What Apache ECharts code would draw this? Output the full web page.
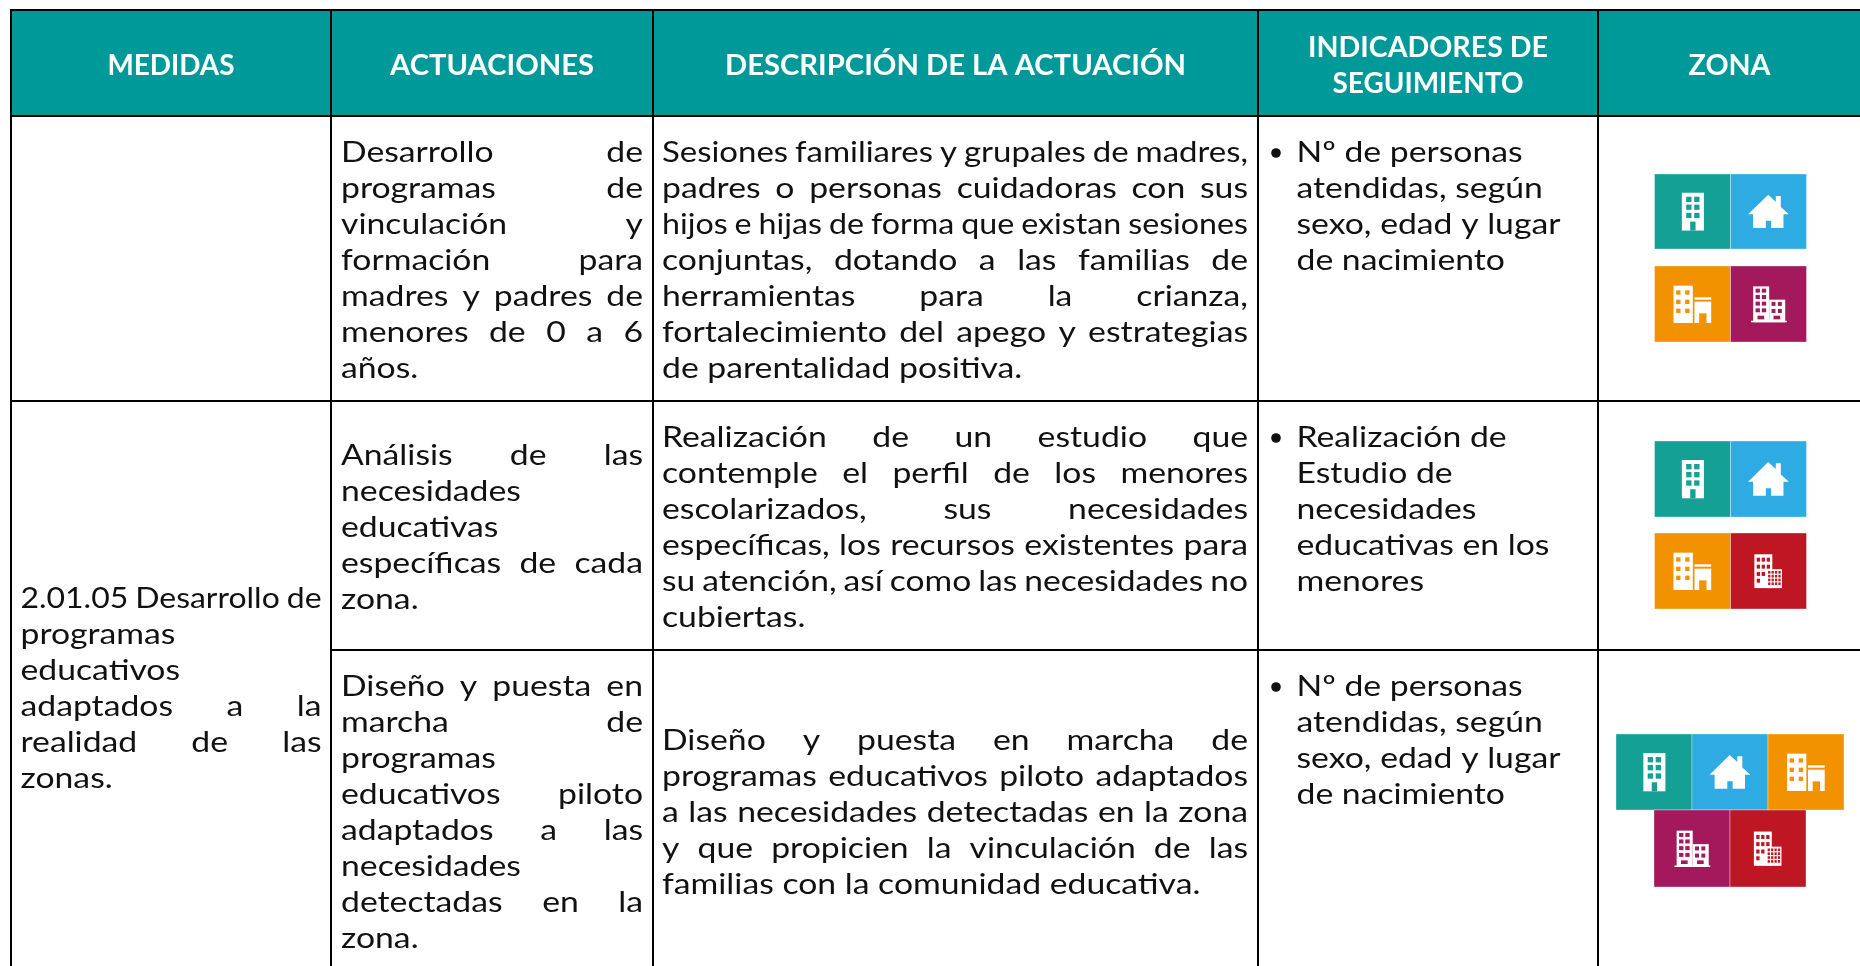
<!DOCTYPE html>
<html lang="es">
<head>
<meta charset="utf-8">
<style>html,body{margin:0;padding:0;background:#fff}#c{width:1860px;height:966px}</style>
<script src="https://cdn.jsdelivr.net/npm/echarts@6/dist/echarts.min.js"></script>
</head>
<body>
<div id="c"></div>
<script>
// ---------- content ----------
const headers = [["MEDIDAS"], ["ACTUACIONES"], ["DESCRIPCIÓN DE LA ACTUACIÓN"], ["INDICADORES DE", "SEGUIMIENTO"], ["ZONA"]];

const medida = ["2.01.05 Desarrollo de", "programas", "educativos", "adaptados a la", "realidad de las", "zonas."];

const actuacion1 = ["Desarrollo de", "programas de", "vinculación y", "formación para", "madres y padres de", "menores de 0 a 6", "años."];
const actuacion2 = ["Análisis de las", "necesidades", "educativas", "específicas de cada", "zona."];
const actuacion3 = ["Diseño y puesta en", "marcha de", "programas", "educativos piloto", "adaptados a las", "necesidades", "detectadas en la", "zona."];

const descripcion1 = ["Sesiones familiares y grupales de madres,", "padres o personas cuidadoras con sus", "hijos e hijas de forma que existan sesiones", "conjuntas, dotando a las familias de", "herramientas para la crianza,", "fortalecimiento del apego y estrategias", "de parentalidad positiva."];
const descripcion2 = ["Realización de un estudio que", "contemple el perfil de los menores", "escolarizados, sus necesidades", "específicas, los recursos existentes para", "su atención, así como las necesidades no", "cubiertas."];
const descripcion3 = ["Diseño y puesta en marcha de", "programas educativos piloto adaptados", "a las necesidades detectadas en la zona", "y que propicien la vinculación de las", "familias con la comunidad educativa."];

const indicador1 = ["Nº de personas", "atendidas, según", "sexo, edad y lugar", "de nacimiento"];
const indicador2 = ["Realización de", "Estudio de", "necesidades", "educativas en los", "menores"];
const indicador3 = ["Nº de personas", "atendidas, según", "sexo, edad y lugar", "de nacimiento"];

const zonas1 = [["teal", "blue"], ["orange", "purple"]];
const zonas2 = [["teal", "blue"], ["orange", "red"]];
const zonas3 = [["teal", "blue", "orange"], ["purple", "red"]];

// ---------- layout and style ----------
const COLS = [11, 331, 653, 1258, 1598, 1862];
const ROWS = [10, 116, 401, 650, 968];
const HEAD_WIDTHS = {"MEDIDAS": 127, "ACTUACIONES": 204, "DESCRIPCIÓN DE LA ACTUACIÓN": 461, "INDICADORES DE": 240, "SEGUIMIENTO": 191, "ZONA": 82};
const TEAL_HEAD = "#009999";
const LINE_H = 36.05;
const FONT = "Lato";
const BODY_SIZE = 29, HEAD_SIZE = 29, MIN_GAP = 7;
const TILE_COLORS = {teal: "#15a096", blue: "#2eabe2", orange: "#f39200", purple: "#a3195b", red: "#be1622"};

const measure = document.createElement("canvas").getContext("2d");
function widthOf(t, weight, size) { measure.font = weight + " " + size + "px " + FONT; return measure.measureText(t).width; }
const K_BODY = 264 / widthOf("sexo, edad y lugar", "normal", BODY_SIZE);

// icon drawings in 0..1 tile units: [x0, y0, x1, y1, isWindow]
const S = (x0, y0, x1, y1, hole) => [x0, y0, x1, y1, !!hole];
function gridOf(xs, ys, w, h) { const o = []; ys.forEach(y => xs.forEach(x => o.push(S(x, y, x + w, y + h, true)))); return o; }
const ICONS = {
  teal: {rects: [S(.36,.25,.65,.754), ...gridOf([.417,.522],[.303,.408,.518],.07,.07), S(.47,.635,.54,.754,true)]},
  blue: {poly: [[.496,.276],[.596,.37],[.596,.294],[.662,.294],[.662,.44],[.768,.535],[.697,.535],[.697,.72],[.535,.72],[.535,.623],[.465,.623],[.465,.72],[.298,.72],[.298,.535],[.232,.535]]},
  orange: {rects: [S(.25,.259,.504,.75), ...gridOf([.285,.404],[.32,.443,.561],.057,.057),
                   S(.526,.412,.746,.443), S(.526,.469,.746,.75), S(.588,.623,.684,.75,true)]},
  purple: {rects: [S(.298,.268,.509,.74), S(.509,.443,.72,.74), S(.27,.72,.74,.74),
                   ...gridOf([.33,.412],[.298,.382,.469,.557],.057,.052), ...gridOf([.54,.623],[.473,.566],.052,.052),
                   S(.355,.654,.443,.702,true), S(.566,.654,.654,.702,true)]},
  red: {rects: [S(.314,.28,.55,.725), ...gridOf([.345,.41,.476],[.325,.417],.044,.052), ...gridOf([.345,.41],[.513],.044,.052), S(.345,.601,.389,.653,true),
                S(.476,.476,.677,.725), ...gridOf([.495,.54,.585,.63],[.5,.55,.6,.65],.03,.035)]}
};

function tile(name, x, y, w, h) {
  const col = TILE_COLORS[name], ic = ICONS[name], kids = [
    {type: "rect", shape: {x, y, width: w, height: h}, style: {fill: col, stroke: "rgba(255,255,255,.35)", lineWidth: 1}}
  ];
  if (ic.poly) kids.push({type: "polygon", shape: {points: ic.poly.map(p => [x + p[0] * w, y + p[1] * h])}, style: {fill: "#fff"}});
  (ic.rects || []).forEach(r => kids.push({type: "rect",
    shape: {x: x + r[0] * w, y: y + r[1] * h, width: (r[2] - r[0]) * w, height: (r[3] - r[1]) * h},
    style: {fill: r[4] ? col : "#fff"}}));
  return kids;
}

function word(t, x, y, fill, weight, size, k) {
  return {type: "text", x, y, scaleX: k, scaleY: 1,
    style: {text: t, x: 0, y: 0, fill, fontFamily: FONT, fontSize: size, fontWeight: weight, align: "left", verticalAlign: "middle"}};
}

function paragraph(lines, x0, x1, yFirst, justify) {
  const out = [];
  lines.forEach((ln, i) => {
    const y = yFirst + i * LINE_H, parts = ln.split(" ");
    const isLast = i === lines.length - 1;
    if (justify && !isLast && parts.length > 1) {
      const raw = parts.map(p => widthOf(p, "normal", BODY_SIZE));
      const rawSum = raw.reduce((a, b) => a + b, 0), room = x1 - x0 - (parts.length - 1) * MIN_GAP;
      const k = Math.min(K_BODY, room / rawSum);
      const gap = (x1 - x0 - rawSum * k) / (parts.length - 1);
      let x = x0;
      parts.forEach((p, j) => { out.push(word(p, x, y, "#111", "normal", BODY_SIZE, k)); x += raw[j] * k + gap; });
    } else {
      out.push(word(ln, x0, y, "#111", "normal", BODY_SIZE, K_BODY));
    }
  });
  return out;
}

function bullet(x, y) { return {type: "circle", shape: {cx: x, cy: y, r: 4.8}, style: {fill: "#111"}}; }

const TILE = 76;
const cells = [
  () => { // header band and titles
    const kids = [{type: "rect", shape: {x: COLS[0], y: ROWS[0], width: 1860 - COLS[0], height: ROWS[1] - ROWS[0]}, style: {fill: TEAL_HEAD}}];
    headers.forEach((h, c) => {
      const cx = (COLS[c] + COLS[c + 1]) / 2 - (c === 4 ? 0.5 : 0);
      h.forEach((t, i) => {
        const w = HEAD_WIDTHS[t], k = w / widthOf(t, "bold", HEAD_SIZE);
        const y = h.length === 1 ? 66 : 48 + i * 36;
        kids.push(word(t, cx - w / 2, y, "#fff", "bold", HEAD_SIZE, k));
      });
    });
    return kids;
  },
  () => paragraph(medida, 20.5, 321.5, 598.5, true),
  () => paragraph(actuacion1, 341, 643, 152.5, true),
  () => paragraph(actuacion2, 341, 643, 455.5, true),
  () => paragraph(actuacion3, 341, 643, 686.5, true),
  () => paragraph(descripcion1, 662, 1248, 152.5, true),
  () => paragraph(descripcion2, 662, 1248, 437.5, true),
  () => paragraph(descripcion3, 662, 1248, 740.5, true),
  () => [bullet(1276, 153), ...paragraph(indicador1, 1296.5, 1590, 152.5, false)],
  () => [bullet(1276, 438), ...paragraph(indicador2, 1296.5, 1590, 437.5, false)],
  () => [bullet(1276, 687), ...paragraph(indicador3, 1296.5, 1590, 686.5, false)],
  () => [...tile(zonas1[0][0], 1654.5, 174, TILE, 75), ...tile(zonas1[0][1], 1730.5, 174, TILE, 75),
         ...tile(zonas1[1][0], 1654.5, 266, TILE, 76), ...tile(zonas1[1][1], 1730.5, 266, TILE, 76)],
  () => [...tile(zonas2[0][0], 1654.5, 441, TILE, 76), ...tile(zonas2[0][1], 1730.5, 441, TILE, 76),
         ...tile(zonas2[1][0], 1654.5, 533, TILE, 76), ...tile(zonas2[1][1], 1730.5, 533, TILE, 76)],
  () => [...tile(zonas3[0][0], 1616, 734, TILE, 76), ...tile(zonas3[0][1], 1692, 734, TILE, 76), ...tile(zonas3[0][2], 1768, 734, TILE, 76),
         ...tile(zonas3[1][0], 1654, 810, TILE, 77), ...tile(zonas3[1][1], 1730, 810, TILE, 77)],
  () => { // ruling
    const ln = (x1, y1, x2, y2) => ({type: "line", shape: {x1, y1, x2, y2}, style: {stroke: "#000", lineWidth: 2}});
    const out = COLS.slice(0, 5).map(x => ln(x, ROWS[0] - 1, x, 966));
    out.push(ln(COLS[0], ROWS[0], 1860, ROWS[0]), ln(COLS[0], ROWS[1], 1860, ROWS[1]), ln(COLS[0], ROWS[2], 1860, ROWS[2]), ln(COLS[1], ROWS[3], 1860, ROWS[3]));
    return out;
  }
];

const chart = echarts.init(document.getElementById("c"), null, {renderer: "canvas"});
chart.setOption({
  animation: false,
  backgroundColor: "#fff",
  tooltip: {show: false},
  series: [{
    type: "custom",
    coordinateSystem: "none",
    silent: true,
    clip: false,
    data: cells.map((_, i) => [i]),
    renderItem: (params) => ({type: "group", children: cells[params.dataIndex]()})
  }]
});
</script>
</body>
</html>
